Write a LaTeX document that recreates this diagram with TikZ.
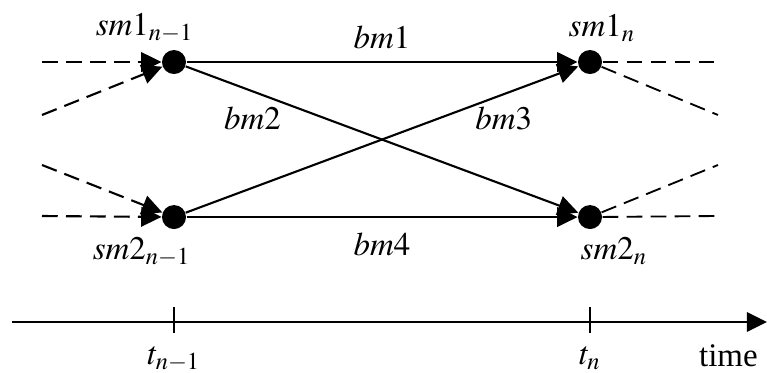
\documentclass[tikz,border=0pt]{standalone}
\usepackage{mathptmx}
\usepackage{fontspec}
\setmainfont{Liberation Serif}
\usetikzlibrary{arrows.meta,positioning}

\begin{document}
\begin{tikzpicture}[node distance=.1cm,
    every node/.style={font=\fontsize{12.5}{15}\selectfont},
    dot/.style={circle,fill=black,minimum size=.32cm,inner sep=0pt},
    link/.style={-{Triangle[length=.27cm,width=.26cm]},line width=.8pt},
    ghost/.style={dash pattern=on .21cm off .11cm,line width=.7pt}]
  \useasboundingbox (0,0) rectangle (10.227,-4.973);
  % the four states
  \node[dot] (s1p) at (2.32,-.827) {};
  \node[dot,below=1.733cm of s1p] (s2p) {};
  \node[dot,right=5.213cm of s1p] (s1n) {};
  \node[dot,below=1.733cm of s1n] (s2n) {};
  \node[above=-.03cm of s1p,xshift=-.39cm] (l1p) {$sm1_{n-1}$};
  \node[below=-.02cm of s2p,xshift=-.43cm] (l2p) {$sm2_{n-1}$};
  \node[above=-.02cm of s1n,xshift=.16cm] (l1n) {$sm1_{n}$};
  \node[below=-.02cm of s2n,xshift=.32cm] (l2n) {$sm2_{n}$};
  % branches
  \draw[link] (s1p) -- node[above=.04cm] (b1) {$bm1$} (s1n);
  \draw[link] (s1p) -- node[pos=.17,below=.08cm] (b2) {$bm2$} (s2n);
  \draw[link] (s2p) -- node[pos=.81,below=.04cm] (b3) {$bm3$} (s1n);
  \draw[link] (s2p) -- node[below=.08cm] (b4) {$bm4$} (s2n);
  % incoming and outgoing
  \coordinate (inA) at (.56,-.827);
  \coordinate (inB) at (.56,-1.533);
  \coordinate (inC) at (.56,-2.2);
  \coordinate (inD) at (.56,-2.88);
  \coordinate (outA) at (9.573,-.827);
  \coordinate (outB) at (9.573,-1.533);
  \coordinate (outC) at (9.573,-2.2);
  \coordinate (outD) at (9.573,-2.88);
  \draw[ghost,link] (inA) -- (s1p);
  \draw[ghost,link] (inB) -- (s1p);
  \draw[ghost,link] (inC) -- (s2p);
  \draw[ghost,link] (inD) -- (s2p);
  \draw[ghost] (s1n) -- (outA);
  \draw[ghost] (s1n) -- (outB);
  \draw[ghost] (s2n) -- (outC);
  \draw[ghost] (s2n) -- (outD);
  % time axis
  \coordinate (t0) at (.16,-4.293);
  \coordinate (tend) at (10.227,-4.293);
  \coordinate (ta) at (s1p |- t0);
  \coordinate (tb) at (s1n |- t0);
  \draw[link] (t0) -- (tend);
  \draw[line width=.8pt] (ta) ++(0,.2) -- ++(0,-.35);
  \draw[line width=.8pt] (tb) ++(0,.2) -- ++(0,-.35);
  \node[below=.2cm of ta] (la) {$t_{n-1}$};
  \node[below=.2cm of tb] (lb) {$t_{n}$};
  \node[below left=.18cm and 0cm of tend] (lt) {time};
\end{tikzpicture}
\end{document}
